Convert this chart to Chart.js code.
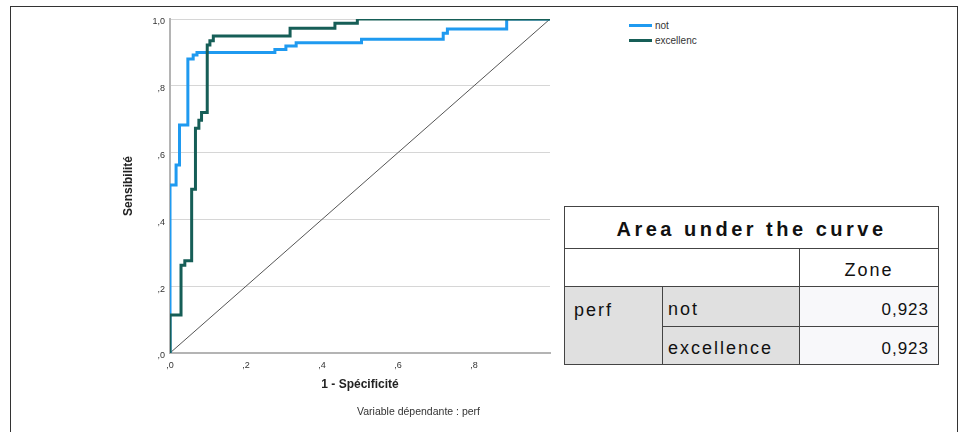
<!DOCTYPE html>
<html>
<head>
<meta charset="utf-8">
<script src="https://cdn.jsdelivr.net/npm/chart.js@4.4.1/dist/chart.umd.min.js"></script>
<style>
    body { margin: 0; background: #fff; font-family: "Liberation Sans", Arial, sans-serif; }
    #frame { position: absolute; left: 10px; top: 6px; width: 946px; height: 440px; border: 1px solid #333; }
    #wrap { position: absolute; left: 0; top: 0; width: 560px; height: 432px; }
    #legend { position: absolute; left: 629px; top: 18px; font-size: 10px; color: #333; }
    #legend div { display: flex; align-items: center; height: 15px; }
    #legend span.swatch { display: inline-block; width: 23px; height: 3px; margin-right: 3px; }
    #note { position: absolute; left: 357px; top: 405px; font-size: 10.5px; color: #333; }
    table { position: absolute; left: 564px; top: 206px; border-collapse: collapse; table-layout: fixed; width: 374px; color: #111; }
    td { border: 1px solid #444; padding: 6px 9px 0 9px; font-size: 18px; letter-spacing: 2px; }
    td.title { font-weight: bold; font-size: 20px; letter-spacing: 3.5px; text-align: center; height: 38px; padding-top: 3px; }
    td.gray { background: #e0e0e0; }
    td.val { text-align: right; background: #f8f8fa; letter-spacing: 1px; font-size: 17px; }
</style>
</head>
<body>
<div id="frame"></div>
<div id="wrap"><canvas id="roc" width="560" height="432"></canvas></div>
<div id="legend"></div>
<div id="note">Variable dépendante : perf</div>
<table>
    <colgroup><col style="width:98px"><col style="width:137px"><col style="width:139px"></colgroup>
    <tr><td class="title" colspan="3">Area under the curve</td></tr>
    <tr style="height:38px"><td colspan="2"></td><td style="text-align:center">Zone</td></tr>
    <tr style="height:40px"><td class="gray" rowspan="2" style="vertical-align:top;padding-top:13px">perf</td><td class="gray" style="padding-left:5px">not</td><td class="val">0,923</td></tr>
    <tr style="height:38px"><td class="gray" style="padding-left:5px">excellence</td><td class="val">0,923</td></tr>
</table>
<script>
// ROC curve vertices (1 - specificity, sensitivity)
const fprNot = [0, 0, 0.016, 0.025, 0.047, 0.061, 0.071, 0.276, 0.305, 0.332, 0.504, 0.719, 0.73, 0.886, 1];
const tprNot = [0, 0.503, 0.563, 0.683, 0.88, 0.892, 0.90, 0.909, 0.919, 0.929, 0.939, 0.957, 0.97, 1.0, 1.0];

const fprExc = [0, 0, 0.029, 0.039, 0.057, 0.067, 0.076, 0.083, 0.098, 0.105, 0.114, 0.316, 0.434, 0.493, 1];
const tprExc = [0, 0.114, 0.263, 0.276, 0.49, 0.673, 0.697, 0.72, 0.922, 0.935, 0.949, 0.972, 0.987, 1.0, 1.0];

const refLine = [0, 1];

const seriesLabels = ['not', 'excellenc'];
const seriesColors = ['#1f9af0', '#165e57'];

/**
 * Formats a tick value the SPSS way: ",2" or "1,0".
 */
function spssTick(v) {
    const n = Math.round(v * 10);
    return n === 10 ? '1,0' : ',' + n;
}

function toPoints(xs, ys) {
    return xs.map((x, i) => ({ x: x, y: ys[i] }));
}

const tickFont = { family: '"Liberation Sans", Arial, sans-serif', size: 9 };
const titleFont = { family: '"Liberation Sans", Arial, sans-serif', size: 12, weight: 'bold' };

const chart = new Chart(document.getElementById('roc').getContext('2d'), {
    type: 'line',
    data: {
        datasets: [
            {
                label: seriesLabels[0],
                data: toPoints(fprNot, tprNot),
                borderColor: seriesColors[0],
                borderWidth: 3,
                stepped: 'before',
                pointRadius: 0,
                order: 1
            },
            {
                label: seriesLabels[1],
                data: toPoints(fprExc, tprExc),
                borderColor: seriesColors[1],
                borderWidth: 3,
                stepped: 'before',
                pointRadius: 0,
                order: 0
            },
            {
                label: 'reference',
                data: toPoints(refLine, refLine),
                borderColor: '#555',
                borderWidth: 1,
                pointRadius: 0,
                order: 2
            }
        ]
    },
    options: {
        responsive: false,
        animation: false,
        devicePixelRatio: 1,
        layout: { padding: { left: 121, top: 19, right: 10, bottom: 37 } },
        plugins: { legend: { display: false }, tooltip: { enabled: false } },
        scales: {
            x: {
                type: 'linear',
                min: 0,
                max: 1,
                afterFit: (scale) => { scale.height = 42; },
                ticks: {
                    stepSize: 0.2,
                    padding: 7,
                    font: tickFont,
                    color: '#333',
                    callback: (v) => (Math.round(v * 10) === 10 ? '' : spssTick(v))
                },
                grid: { display: false, drawTicks: false },
                border: { display: true, color: '#b4b4b4', width: 2 },
                title: { display: true, text: '1 - Spécificité', font: titleFont, color: '#222', padding: { top: 0, bottom: 3 } }
            },
            y: {
                type: 'linear',
                min: 0,
                max: 1,
                afterFit: (scale) => { scale.width = 49; },
                ticks: {
                    stepSize: 0.2,
                    padding: 5,
                    labelOffset: 3,
                    font: tickFont,
                    color: '#333',
                    callback: spssTick
                },
                grid: { color: '#d6d6d6', lineWidth: 1, drawTicks: false },
                border: { display: true, color: '#b4b4b4', width: 2 },
                title: { display: true, text: 'Sensibilité', font: titleFont, color: '#222', padding: 0 }
            }
        }
    }
});

// small legend to the right of the plot, built from the datasets
const legend = document.getElementById('legend');
chart.data.datasets.slice(0, 2).forEach((ds) => {
    const row = document.createElement('div');
    row.innerHTML = '<span class="swatch" style="background:' + ds.borderColor + '"></span>' + ds.label;
    legend.appendChild(row);
});
</script>
</body>
</html>
